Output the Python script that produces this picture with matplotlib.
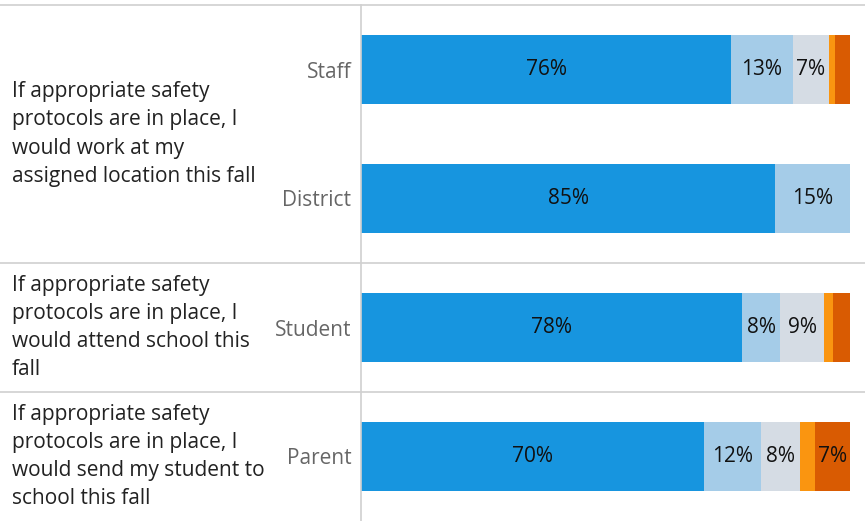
import matplotlib
matplotlib.use("Agg")
import matplotlib.pyplot as plt
from matplotlib.lines import Line2D
import numpy as np

plt.rcParams['font.family'] = ['Open Sans', 'DejaVu Sans']

# data (percent of responses)
groups = ["Staff", "District", "Student", "Parent"]
questions = [
    "If appropriate safety\nprotocols are in place, I\nwould work at my\nassigned location this fall",
    "If appropriate safety\nprotocols are in place, I\nwould attend school this\nfall",
    "If appropriate safety\nprotocols are in place, I\nwould send my student to\nschool this fall",
]
question_rows = [0.5, 2, 3]   # centre of each question block
strongly_agree = [75.7, 84.7, 77.9, 70.1]
agree = [12.6, 15.3, 7.8, 11.7]
neutral = [7.4, 0, 9.0, 8.0]
disagree = [1.2, 0, 1.8, 3.1]
strongly_disagree = [3.1, 0, 3.5, 7.1]

series = [strongly_agree, agree, neutral, disagree, strongly_disagree]
colors = ["#1795df", "#a5cce8", "#d5dce4", "#fa9510", "#d95b02"]

W, H = 865, 521
fig = plt.figure(figsize=(W / 100, H / 100), dpi=100)
left_px, top_px = 361, 5
ax = fig.add_axes([left_px / W, 0, (W - left_px) / W, (H - top_px) / H])

y = np.arange(len(groups))
left = np.zeros(len(groups))
for vals, c in zip(series, colors):
    vals = np.array(vals)
    ax.barh(y, vals, left=left, height=0.54, color=c, edgecolor="none")
    for yi, l, v in zip(y, left, vals):
        if v >= 5:
            ax.text(l + v / 2, yi, f"{round(v)}%", ha="center", va="center",
                    fontsize=15, color="#111111")
    left += vals

ax.set_xlim(0, 100 * (W - left_px) / (850 - left_px))
ax.set_ylim(len(groups) - 0.5, -0.5)
ax.set_xticks([])
ax.set_yticks(y)
ax.set_yticklabels(groups, fontsize=15, color="#666666")
ax.tick_params(axis="y", length=0, pad=7)
for s in ax.spines.values():
    s.set_visible(False)
ax.spines["left"].set_visible(True)
ax.spines["left"].set_color("#d0d0d0")
ax.spines["left"].set_linewidth(1.2)

# question labels in the left column
for q, r in zip(questions, question_rows):
    ax.text(-(left_px - 12) / (W - left_px), r, q, transform=ax.get_yaxis_transform(),
            ha="left", va="center", fontsize=15, color="#222222", linespacing=1.44)

# row separators across the whole width
for yb in [-0.5, 1.5, 2.5]:
    yf = ax.transData.transform((0, yb))[1] / H
    fig.add_artist(Line2D([0, 1], [yf, yf], transform=fig.transFigure,
                          color="#d0d0d0", lw=1.2))

fig.savefig("out.png", dpi=100)
